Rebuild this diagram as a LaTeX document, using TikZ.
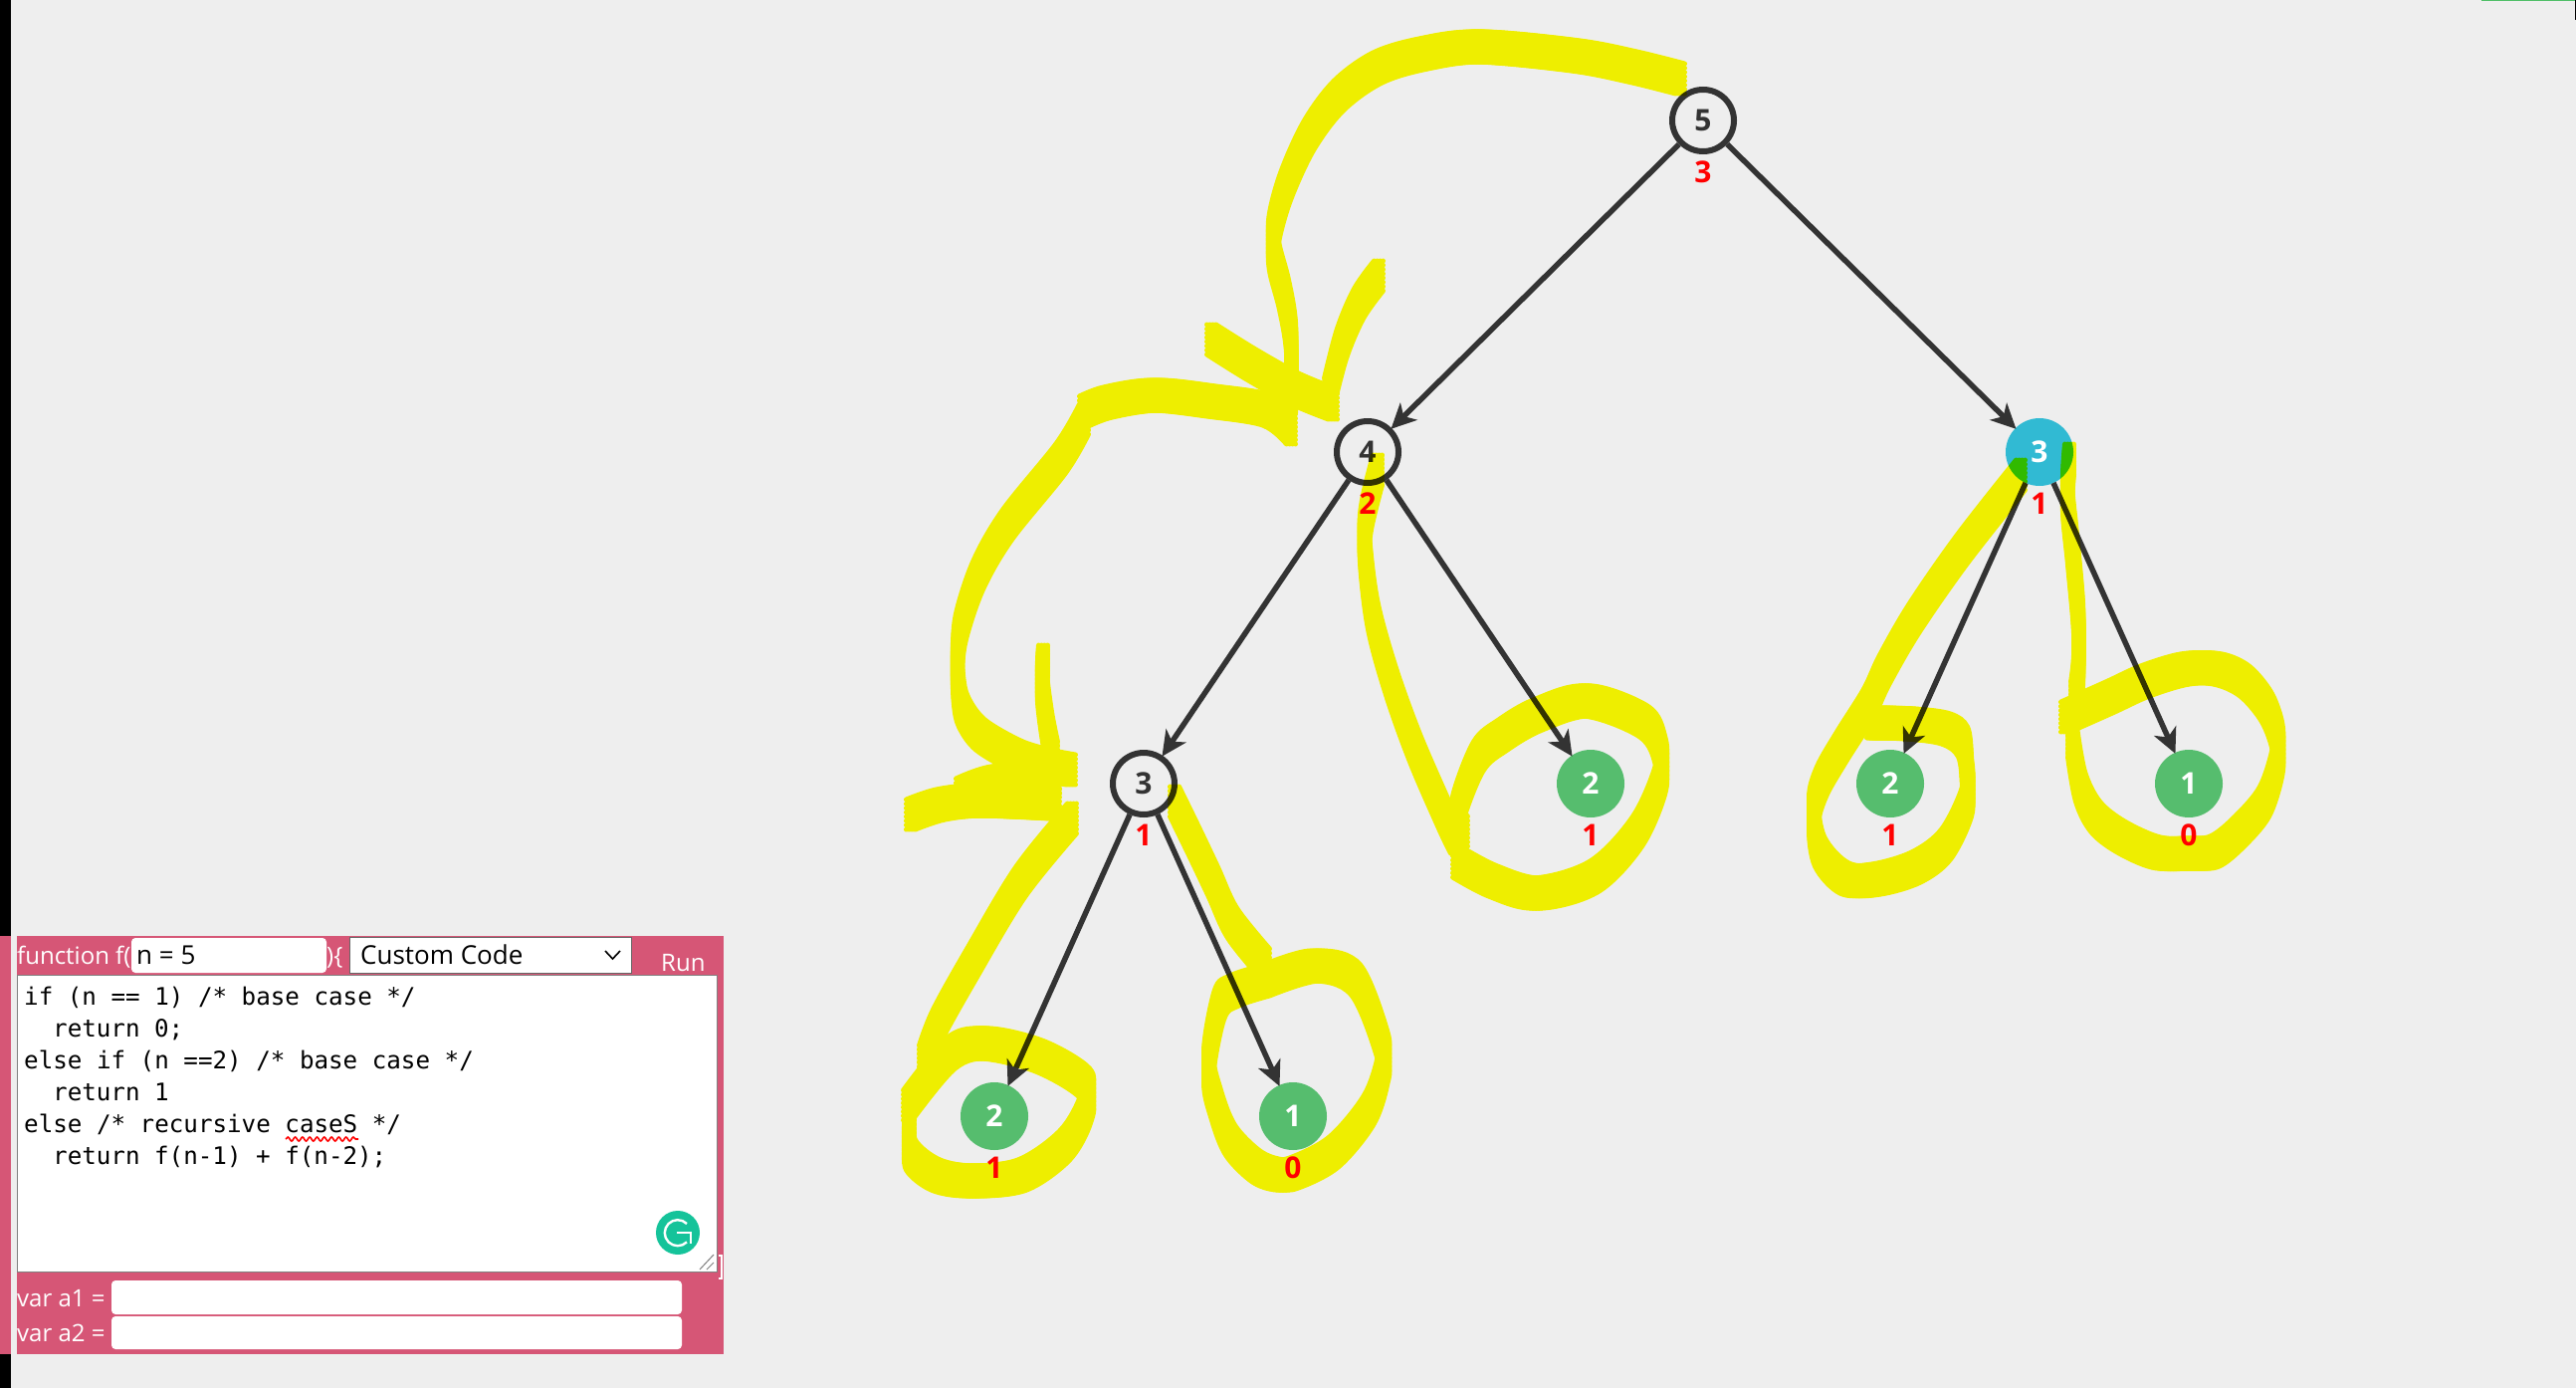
\documentclass[tikz,border=0pt]{standalone}
\usepackage{fontspec}
\setmainfont{Open Sans}
\newfontfamily\codefont{DejaVu Sans Mono}
\newfontfamily\uifont{Open Sans}
\usetikzlibrary{arrows.meta,decorations.pathmorphing}
\definecolor{pagebg}{HTML}{EEEEEE}
\definecolor{panelpink}{HTML}{D65676}
\definecolor{inkdark}{HTML}{333333}
\definecolor{leafgreen}{HTML}{56BD6E}
\definecolor{activeblue}{HTML}{31BAD3}
\definecolor{gram}{HTML}{15C39A}
\definecolor{stripgreen}{HTML}{4FBF67}
\definecolor{hlyellow}{rgb}{1,1,0}
\tikzset{
  opennode/.style={circle,draw=inkdark,line width=6pt,minimum size=62pt,inner sep=0pt,text=inkdark,font=\bfseries\fontsize{30}{30}\selectfont},
  leafnode/.style={circle,fill=leafgreen,minimum size=68pt,inner sep=0pt,outer sep=0pt,text=white,font=\bfseries\fontsize{30}{30}\selectfont},
  activenode/.style={circle,fill=activeblue,minimum size=68pt,inner sep=0pt,outer sep=0pt,text=white,font=\bfseries\fontsize{30}{30}\selectfont},
  countlabel/.style={inner sep=0pt,text=red,font=\bfseries\fontsize{30}{30}\selectfont},
  treeedge/.style={draw=inkdark,line width=5.5pt,-{Stealth[length=25pt,width=24pt,inset=7pt]},shorten >=-1pt},
  hlpen/.style={draw=hlyellow,line width=5pt,line cap=round,line join=round},
  codeline/.style={anchor=base west,inner sep=0pt,text=black,font=\codefont\fontsize{24.2}{24}\selectfont},
  uilabel/.style={anchor=base west,inner sep=0pt,text=white,font=\uifont\fontsize{24}{24}\selectfont},
  uidark/.style={anchor=base west,inner sep=0pt,text=black,font=\uifont\fontsize{26}{26}\selectfont},
  inputbox/.style={fill=white,rounded corners=4pt},
}
\newcommand{\hlstroke}[1]{%
  \foreach \dx in {-4.5,-1.5,1.5,4.5}{\foreach \dy in {-15,-10.7,-6.4,-2.1,2.1,6.4,10.7,15}{%
    \draw[hlpen,shift={(\dx,\dy)}] plot[smooth,tension=.55] coordinates {#1};}}}
\begin{document}
\begin{tikzpicture}[x=1pt,y=-1pt]
\useasboundingbox (0,0) rectangle (2588,1394);
\fill[pagebg] (0,0) rectangle (2588,1394);
% window edges
\fill[black] (0,0) rectangle (11,940);
\fill[panelpink] (0,940) rectangle (11,1360);
\fill[black] (0,1360) rectangle (11,1394);
\fill[stripgreen] (2493,0) rectangle (2587,1.5);
\fill[black] (2587,0) rectangle (2588,20);
% code panel
\fill[panelpink] (17,940) rectangle (727,1360);
\fill[inputbox] (132,942) rectangle (328,977);
\fill[white,draw=gray!80!black,line width=1pt] (351,941) rectangle (634,977);
\draw[black,line width=1.6pt] (608,955) -- (615.5,963) -- (623,955);
\fill[white,draw=gray,line width=1pt] (17.5,979) rectangle (720,1277);
\fill[inputbox] (112,1286) rectangle (685,1320);
\fill[inputbox] (112,1322) rectangle (685,1355);
\node[uilabel] (fn) at (17,968) {function f(};
\node[uidark] (nval) at (137,968) {n = 5};
\node[uilabel] (brace) at (328,968) {)\{};
\node[uidark] (sel) at (362,968) {Custom Code};
\node[uilabel] (run) at (664,975) {Run};
\node[codeline] (c1) at (24,1009) {if (n == 1) /* base case */};
\node[codeline] (c2) at (53,1041) {return 0;};
\node[codeline] (c3) at (24,1073) {else if (n ==2) /* base case */};
\node[codeline] (c4) at (53,1105) {return 1};
\node[codeline] (c5) at (24,1137) {else /* recursive caseS */};
\node[codeline] (c6) at (53,1169) {return f(n-1) + f(n-2);};
\draw[red,line width=1.6pt,decorate,decoration={snake,amplitude=2pt,segment length=7.3pt}] (287,1144) -- (360,1144);
\node[uilabel] (a1) at (17,1312) {var a1 =};
\node[uilabel] (a2) at (17,1347) {var a2 =};
% grammarly badge
\fill[gram] (681,1238) circle (22);
\draw[white,line width=2.4pt] (690,1229) arc (-45:-315:13) ;
\draw[white,line width=2.4pt] (680,1238) -- (694,1238) -- (694,1249);
% resize handle and cut brace
\draw[gray,line width=1pt] (703,1275) -- (717,1260) (710,1275) -- (717,1268);
\draw[white,line width=1.6pt] (722,1261) -- (725,1261) -- (725,1284) -- (722,1284);
% tree nodes
\node[opennode] (n5) at (1711,121) {5};
\node[opennode] (n4) at (1374,454) {4};
\node[activenode] (n3r) at (2049,454) {3};
\node[opennode] (n3l) at (1149,787) {3};
\node[leafnode] (n2m) at (1598,787) {2};
\node[leafnode] (n2r) at (1899,787) {2};
\node[leafnode] (n1r) at (2199,787) {1};
\node[leafnode] (n2l) at (999,1121) {2};
\node[leafnode] (n1l) at (1299,1121) {1};
% call-count labels
\node[countlabel] (l5) at (1711,173) {3};
\node[countlabel] (l4) at (1374,506) {2};
\node[countlabel] (l3r) at (2049,506) {1};
\node[countlabel] (l3l) at (1149,839) {1};
\node[countlabel] (l2m) at (1598,839) {1};
\node[countlabel] (l2r) at (1899,839) {1};
\node[countlabel] (l1r) at (2199,839) {0};
\node[countlabel] (l2l) at (999,1173) {1};
\node[countlabel] (l1l) at (1299,1173) {0};
% edges
\draw[treeedge] (n5) -- (n4);
\draw[treeedge] (n5) -- (n3r);
\draw[treeedge] (n4) -- (n3l);
\draw[treeedge] (n4) -- (n2m);
\draw[treeedge] (n3r) -- (n2r);
\draw[treeedge] (n3r) -- (n1r);
\draw[treeedge] (n3l) -- (n2l);
\draw[treeedge] (n3l) -- (n1l);
% highlighter strokes
\begin{scope}[blend mode=multiply]
\hlstroke{(1688,79)(1640,67)(1583,56)(1487,47)(1430,54)(1384,68)(1345,96)(1315,136)(1292,186)(1280,229)(1280,257)(1290,296)(1297,339)(1297,400)}
\hlstroke{(1217,341)(1257,366)(1300,390)(1339,406)}
\hlstroke{(1385,277)(1365,305)(1348,345)(1335,395)}
\hlstroke{(1297,431)(1273,412)(1217,403)(1160,397)(1113,404)(1089,413)}
\hlstroke{(1089,421)(1066,460)(1012,527)(983,577)(966,627)(962,660)(963,693)(968,715)(985,738)(1021,759)(1050,768)(1076,773)}
\hlstroke{(1048,663)(1047,690)(1052,730)(1058,760)}
\hlstroke{(915,818)(945,808)(985,804)(1060,807)}
\hlstroke{(965,797)(1000,785)(1060,782)}
\hlstroke{(1077,822)(1025,886)(976,968)(942,1029)(928,1065)}
\hlstroke{(912,1110)(955,1058)(990,1048)(1045,1061)(1090,1088)(1091,1113)(1070,1150)(1027,1180)(976,1186)(940,1180)(915,1160)(914,1135)}
\hlstroke{(1180,805)(1200,846)(1219,886)(1238,927)(1271,968)}
\hlstroke{(1271,985)(1240,995)(1225,1009)(1214,1070)(1222,1110)(1236,1145)(1260,1170)(1280,1179)(1300,1178)(1340,1157)(1375,1115)(1389,1075)(1389,1050)(1362,984)(1321,970)(1271,985)}
\hlstroke{(1384,472)(1373,517)(1371,550)(1379,617)(1397,683)(1421,750)(1450,817)(1462,842)}
\hlstroke{(1470,835)(1464,815)(1485,760)(1510,738)(1545,718)(1595,704)(1652,725)(1668,754)(1668,783)(1645,835)(1602,880)(1545,897)(1500,885)(1464,866)}
\hlstroke{(2030,477)(1971,552)(1923,621)(1893,673)(1877,707)(1850,750)(1830,785)(1822,815)(1828,855)(1853,882)(1885,883)(1925,871)(1955,848)(1976,805)(1976,775)(1972,745)(1955,732)(1920,727)(1880,726)}
\hlstroke{(2079,461)(2077,500)(2082,552)(2088,621)(2088,673)(2085,700)}
\hlstroke{(2075,720)(2120,700)(2155,684)(2195,672)(2228,672)(2255,684)(2277,710)(2288,740)(2288,765)(2275,805)(2250,835)(2225,855)(2200,857)(2166,856)(2130,840)(2105,820)(2090,790)(2082,745)}
\end{scope}
\end{tikzpicture}
\end{document}
